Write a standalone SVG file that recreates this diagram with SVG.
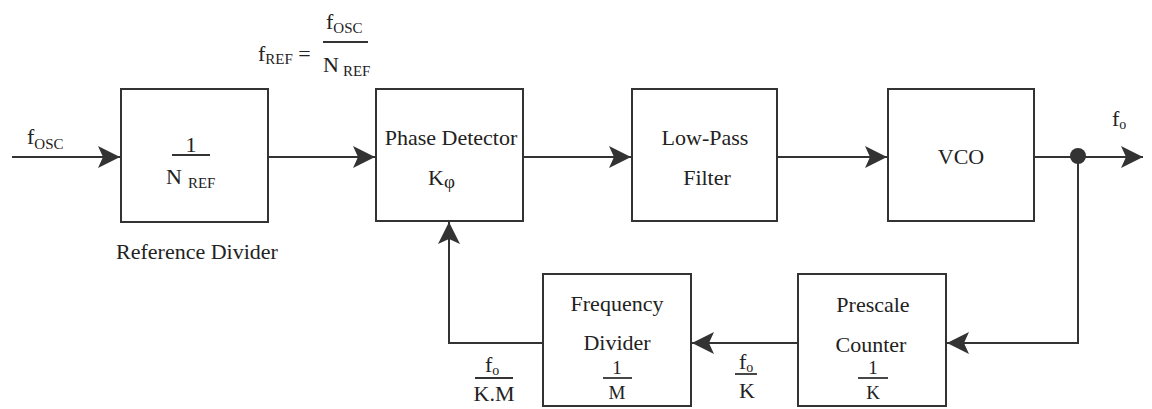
<svg xmlns="http://www.w3.org/2000/svg" width="1152" height="409" viewBox="0 0 1152 409" font-family="'Liberation Serif', 'Times New Roman', serif">
<style>
.box{fill:#fff;stroke:#333;stroke-width:2}
.ln{fill:none;stroke:#333;stroke-width:2}
text{font-family:'Liberation Serif','Times New Roman',serif;font-size:22px;fill:#222}
.c{text-anchor:middle}
.sub{font-size:15px}
.fr{font-size:19px}
.bar{stroke:#333;stroke-width:1.8}
</style>
<defs>
<marker id="ah" markerUnits="userSpaceOnUse" markerWidth="24" markerHeight="24" viewBox="-23 -12 24 24" refX="0" refY="0" orient="auto">
<path d="M0,0 L-22,-11 L-17,0 L-22,11 z" fill="#333"/>
</marker>
</defs>
<rect width="1152" height="409" fill="#fff"/>
<g id="connectors">
<path class="ln" d="M12,157 H120" marker-end="url(#ah)"/>
<path class="ln" d="M268,157 H375" marker-end="url(#ah)"/>
<path class="ln" d="M523,157 H631" marker-end="url(#ah)"/>
<path class="ln" d="M777,157 H887" marker-end="url(#ah)"/>
<path class="ln" d="M1034,157 H1143" marker-end="url(#ah)"/>
<circle cx="1078" cy="156" r="8" fill="#333"/>
<path class="ln" d="M1078,157 V343 H947" marker-end="url(#ah)"/>
<path class="ln" d="M798,343 H692" marker-end="url(#ah)"/>
<path class="ln" d="M543,343 H449 V222" marker-end="url(#ah)"/>
</g>
<g id="label-fosc-in"><text x="27" y="144">f<tspan class="sub" dy="5">OSC</tspan></text></g>
<g id="label-fref">
<text x="258" y="61">f<tspan class="sub" dy="3">REF</tspan><tspan dy="-3"> =</tspan></text>
<text x="326" y="29">f<tspan class="sub" dy="4">OSC</tspan></text>
<line class="bar" x1="323" y1="42" x2="368" y2="42"/>
<text x="323" y="72">N<tspan class="sub" dx="4" dy="4">REF</tspan></text>
</g>
<g id="ref-divider">
<rect class="box" x="121" y="89" width="147" height="133"/>
<text class="c" x="191" y="152">1</text>
<line class="bar" x1="172" y1="155" x2="210" y2="155"/>
<text x="166" y="184">N<tspan class="sub" dx="6" dy="4">REF</tspan></text>
<text class="c" x="197" y="259">Reference Divider</text>
</g>
<g id="phase-detector">
<rect class="box" x="376" y="89" width="147" height="132"/>
<text class="c" x="451" y="145">Phase Detector</text>
<text x="428" y="185">K<tspan font-size="19" dy="3">φ</tspan></text>
</g>
<g id="low-pass-filter">
<rect class="box" x="632" y="89" width="145" height="132"/>
<text class="c" x="705" y="145">Low-Pass</text>
<text class="c" x="707" y="185">Filter</text>
</g>
<g id="vco">
<rect class="box" x="888" y="89" width="146" height="132"/>
<text class="c" x="961" y="164">VCO</text>
</g>
<g id="label-fo-out"><text x="1112" y="126">f<tspan font-size="14" dy="3">o</tspan></text></g>
<g id="prescale-counter">
<rect class="box" x="798" y="274" width="148" height="132"/>
<text class="c" x="873" y="312">Prescale</text>
<text class="c" x="871" y="352">Counter</text>
<text class="c fr" x="873" y="374">1</text>
<line class="bar" x1="858" y1="378" x2="888" y2="378"/>
<text class="c fr" x="873" y="399">K</text>
</g>
<g id="frequency-divider">
<rect class="box" x="543" y="274" width="148" height="132"/>
<text class="c" x="617" y="311">Frequency</text>
<text class="c" x="617" y="350">Divider</text>
<text class="c fr" x="617" y="374">1</text>
<line class="bar" x1="603" y1="378" x2="632" y2="378"/>
<text class="c fr" x="617" y="399">M</text>
</g>
<g id="label-fo-k">
<text x="739" y="369">f<tspan font-size="14" dy="3">o</tspan></text>
<line class="bar" x1="735" y1="374" x2="757" y2="374"/>
<text class="c" x="747" y="398">K</text>
</g>
<g id="label-fo-km">
<text x="485" y="372">f<tspan font-size="14" dy="3">o</tspan></text>
<line class="bar" x1="475" y1="378" x2="513" y2="378"/>
<text class="c" x="494" y="401">K.M</text>
</g>
</svg>
